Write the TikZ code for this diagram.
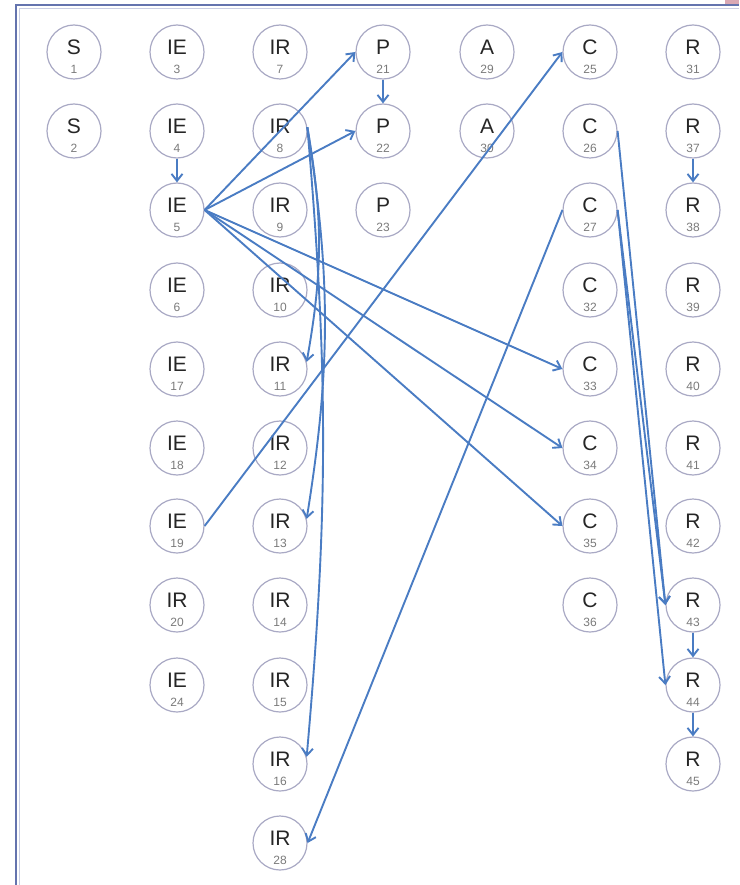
\documentclass[tikz,border=0pt]{standalone}
\usepackage{fontspec}
\setmainfont{Liberation Sans}
\usetikzlibrary{arrows.meta}
\definecolor{ringc}{HTML}{A9A9C4}
\definecolor{arrc}{HTML}{4A7CC3}
\definecolor{framec}{HTML}{6474AE}
\definecolor{numc}{HTML}{7A7A7A}
\definecolor{pinkc}{HTML}{D9A8B4}
\tikzset{
  circ/.style={circle, draw=ringc, line width=1.2pt, minimum size=54pt, inner sep=0pt},
  ltr/.style={inner sep=0pt, text=black!85, font=\fontsize{21}{21}\selectfont},
  num/.style={inner sep=0pt, text=numc, font=\fontsize{12}{12}\selectfont},
  arr/.style={draw=arrc, line width=1.9pt, -{Straight Barb[length=7pt,width=11pt]}}
}
\newcommand\nd[4]{%
  \node[circ] (n#4) at (#1,#2) {};
  \node[ltr] (l#4) at ([yshift=5pt]n#4.center) {#3};
  \node[num] (k#4) at ([yshift=-17pt]n#4.center) {#4};}
\begin{document}
\begin{tikzpicture}[x=1pt,y=-1pt]
\useasboundingbox (0,0) rectangle (739,885);
% frame
\fill[pinkc] (725,0) rectangle (739,5);
\draw[framec, line width=2.5pt] (16,885) -- (16,5) -- (739,5);
\draw[framec!35, line width=1pt] (19,885) -- (19,8.5) -- (739,8.5);
% column 1
\nd{74}{52}{S}{1}
\nd{74}{131}{S}{2}
% column 2
\nd{177}{52}{IE}{3}
\nd{177}{131}{IE}{4}
\nd{177}{210}{IE}{5}
\nd{177}{290}{IE}{6}
\nd{177}{369}{IE}{17}
\nd{177}{448}{IE}{18}
\nd{177}{526}{IE}{19}
\nd{177}{605}{IR}{20}
\nd{177}{685}{IE}{24}
% column 3
\nd{280}{52}{IR}{7}
\nd{280}{131}{IR}{8}
\nd{280}{210}{IR}{9}
\nd{280}{290}{IR}{10}
\nd{280}{369}{IR}{11}
\nd{280}{448}{IR}{12}
\nd{280}{526}{IR}{13}
\nd{280}{605}{IR}{14}
\nd{280}{685}{IR}{15}
\nd{280}{764}{IR}{16}
\nd{280}{843}{IR}{28}
% column 4
\nd{383}{52}{P}{21}
\nd{383}{131}{P}{22}
\nd{383}{210}{P}{23}
% column 5
\nd{487}{52}{A}{29}
\nd{487}{131}{A}{30}
% column 6
\nd{590}{52}{C}{25}
\nd{590}{131}{C}{26}
\nd{590}{210}{C}{27}
\nd{590}{290}{C}{32}
\nd{590}{369}{C}{33}
\nd{590}{448}{C}{34}
\nd{590}{526}{C}{35}
\nd{590}{605}{C}{36}
% column 7
\nd{693}{52}{R}{31}
\nd{693}{131}{R}{37}
\nd{693}{210}{R}{38}
\nd{693}{290}{R}{39}
\nd{693}{369}{R}{40}
\nd{693}{448}{R}{41}
\nd{693}{526}{R}{42}
\nd{693}{605}{R}{43}
\nd{693}{685}{R}{44}
\nd{693}{764}{R}{45}
% vertical arrows
\draw[arr] (n4) -- (n5);
\draw[arr] (n21) -- (n22);
\draw[arr] (n37) -- (n38);
\draw[arr] (n43) -- (n44);
\draw[arr] (n44) -- (n45);
% fan from IE5
\draw[arr] (n5.east) -- (n21.west);
\draw[arr] (n5.east) -- (n22.west);
\draw[arr] (n5.east) -- (n33.west);
\draw[arr] (n5.east) -- (n34.west);
\draw[arr] (n5.east) -- (n35.west);
% from IR8 (slightly bowed to the right)
\draw[arr] (n8.8) to[bend left=10] (n11.15);
\draw[arr] (n8.8) to[bend left=9] (n13.15);
\draw[arr] (n8.8) to[bend left=5] (n16.15);
% long diagonals
\draw[arr] (n19.east) -- (n25.west);
\draw[arr] (n27.west) -- (n28.east);
% C to R
\draw[arr] (n26.east) -- (n43.west);
\draw[arr] (n27.east) -- (n43.west);
\draw[arr] (n27.east) -- (n44.west);
\end{tikzpicture}
\end{document}
